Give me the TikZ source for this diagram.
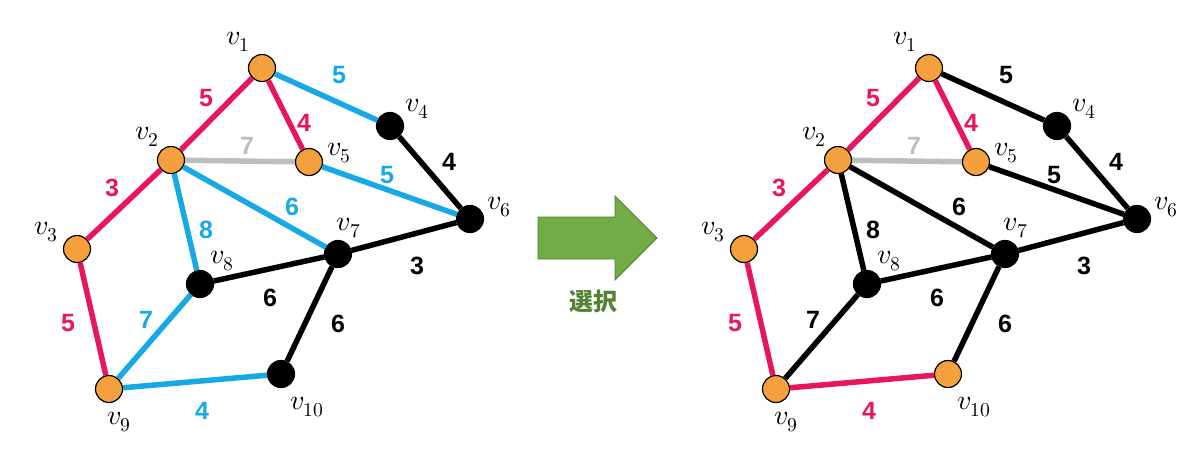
\documentclass[tikz,border=0pt]{standalone}
\usepackage{fontspec}
\usepackage{unicode-math}
\setmathfont{Latin Modern Math}
\newfontfamily\wtfont{Liberation Sans}
\newfontfamily\jpfont{Noto Sans CJK JP}
\usetikzlibrary{positioning}

\definecolor{vorange}{HTML}{F5A03E}
\definecolor{epink}{HTML}{E8155F}
\definecolor{eblue}{HTML}{17A9E6}
\definecolor{egray}{HTML}{BEBEBE}
\definecolor{agreen}{HTML}{70AD47}
\definecolor{agreendark}{HTML}{507E32}
\definecolor{tgreen}{HTML}{548235}

\tikzset{
  vtx/.style={draw=black, circle, line width=1.2pt, minimum size=27pt, inner sep=0pt},
  orangev/.style={vtx, fill=vorange},
  blackv/.style={vtx, fill=black},
  vname/.style={font=\fontsize{28}{32}\selectfont, inner sep=0pt},
  wt/.style={font=\wtfont\bfseries\fontsize{25}{28}\selectfont, inner sep=0pt},
  pinkE/.style={line width=5.5pt, draw=epink},
  blueE/.style={line width=5.5pt, draw=eblue},
  grayE/.style={line width=5.5pt, draw=egray},
  blackE/.style={line width=5.5pt, draw=black},
}

\begin{document}
\begin{tikzpicture}[x=1pt, y=-1pt]
    \useasboundingbox (0,0) rectangle (1200,467);

    % before
    \node[orangev] (a1) at (262,68) {};
    \node[orangev] (a2) at (171,160) {};
    \node[orangev] (a3) at (77,249) {};
    \node[blackv] (a4) at (390,126) {};
    \node[orangev] (a5) at (309,162) {};
    \node[blackv] (a6) at (470,219) {};
    \node[blackv] (a7) at (338,254) {};
    \node[blackv] (a8) at (200,284) {};
    \node[orangev] (a9) at (109,389) {};
    \node[blackv] (a10) at (281,374) {};

    \node[vname] (an1) at (238,42) {$v_1$};
    \node[vname] (an2) at (147,137) {$v_2$};
    \node[vname] (an3) at (46,232) {$v_3$};
    \node[vname] (an4) at (417,109) {$v_4$};
    \node[vname] (an5) at (339,153) {$v_5$};
    \node[vname] (an6) at (499,207) {$v_6$};
    \node[vname] (an7) at (349,228) {$v_7$};
    \node[vname] (an8) at (222,261) {$v_8$};
    \node[vname] (an9) at (119,422) {$v_9$};
    \node[vname] (an10) at (307,407) {$v_{10}$};

    \draw[grayE] (a2) -- (a5);
    \draw[pinkE] (a1) -- (a2);
    \draw[pinkE] (a1) -- (a5);
    \draw[blueE] (a1) -- (a4);
    \draw[pinkE] (a2) -- (a3);
    \draw[blueE] (a2) -- (a7);
    \draw[blueE] (a2) -- (a8);
    \draw[blueE] (a5) -- (a6);
    \draw[blackE] (a4) -- (a6);
    \draw[blackE] (a6) -- (a7);
    \draw[blackE] (a7) -- (a8);
    \draw[blackE] (a7) -- (a10);
    \draw[pinkE] (a3) -- (a9);
    \draw[blueE] (a8) -- (a9);
    \draw[blueE] (a9) -- (a10);

    \node[wt, text=epink] (aw12) at (206,98) {5};
    \node[wt, text=epink] (aw15) at (304,123) {4};
    \node[wt, text=eblue] (aw14) at (339,75) {5};
    \node[wt, text=egray] (aw25) at (247,146) {7};
    \node[wt] (aw46) at (449,162) {4};
    \node[wt, text=eblue] (aw56) at (387,175) {5};
    \node[wt, text=epink] (aw23) at (112,188) {3};
    \node[wt, text=eblue] (aw27) at (292,207) {6};
    \node[wt, text=eblue] (aw28) at (206,230) {8};
    \node[wt] (aw67) at (417,266) {3};
    \node[wt] (aw78) at (270,298) {6};
    \node[wt, text=epink] (aw39) at (68,323) {5};
    \node[wt, text=eblue] (aw89) at (146,320) {7};
    \node[wt] (aw710) at (338,324) {6};
    \node[wt, text=eblue] (aw910) at (202,411) {4};

    % arrow
    \filldraw[fill=agreen, draw=agreendark, line width=0.8pt]
        (538,217) -- (615,217) -- (615,196) -- (657,238) -- (615,280)
        -- (615,259) -- (538,259) -- cycle;
    \node[text=tgreen, font=\jpfont\bfseries\fontsize{24}{28}\selectfont, inner sep=0pt]
        (sel) at (593,301) {選択};

    % after
    \begin{scope}[xshift=667pt]
    \node[orangev] (b1) at (262,68) {};
    \node[orangev] (b2) at (171,160) {};
    \node[orangev] (b3) at (77,249) {};
    \node[blackv] (b4) at (390,126) {};
    \node[orangev] (b5) at (309,162) {};
    \node[blackv] (b6) at (470,219) {};
    \node[blackv] (b7) at (338,254) {};
    \node[blackv] (b8) at (200,284) {};
    \node[orangev] (b9) at (109,389) {};
    \node[orangev] (b10) at (281,374) {};

    \node[vname] (bn1) at (238,42) {$v_1$};
    \node[vname] (bn2) at (147,137) {$v_2$};
    \node[vname] (bn3) at (46,232) {$v_3$};
    \node[vname] (bn4) at (417,109) {$v_4$};
    \node[vname] (bn5) at (339,153) {$v_5$};
    \node[vname] (bn6) at (499,207) {$v_6$};
    \node[vname] (bn7) at (349,228) {$v_7$};
    \node[vname] (bn8) at (222,261) {$v_8$};
    \node[vname] (bn9) at (119,422) {$v_9$};
    \node[vname] (bn10) at (307,407) {$v_{10}$};

    \draw[grayE] (b2) -- (b5);
    \draw[pinkE] (b1) -- (b2);
    \draw[pinkE] (b1) -- (b5);
    \draw[blackE] (b1) -- (b4);
    \draw[pinkE] (b2) -- (b3);
    \draw[blackE] (b2) -- (b7);
    \draw[blackE] (b2) -- (b8);
    \draw[blackE] (b5) -- (b6);
    \draw[blackE] (b4) -- (b6);
    \draw[blackE] (b6) -- (b7);
    \draw[blackE] (b7) -- (b8);
    \draw[blackE] (b7) -- (b10);
    \draw[pinkE] (b3) -- (b9);
    \draw[blackE] (b8) -- (b9);
    \draw[pinkE] (b9) -- (b10);

    \node[wt, text=epink] (bw12) at (206,98) {5};
    \node[wt, text=epink] (bw15) at (304,123) {4};
    \node[wt] (bw14) at (339,75) {5};
    \node[wt, text=egray] (bw25) at (247,146) {7};
    \node[wt] (bw46) at (449,162) {4};
    \node[wt] (bw56) at (387,175) {5};
    \node[wt, text=epink] (bw23) at (112,188) {3};
    \node[wt] (bw27) at (292,207) {6};
    \node[wt] (bw28) at (206,230) {8};
    \node[wt] (bw67) at (417,266) {3};
    \node[wt] (bw78) at (270,298) {6};
    \node[wt, text=epink] (bw39) at (68,323) {5};
    \node[wt] (bw89) at (146,320) {7};
    \node[wt] (bw710) at (338,324) {6};
    \node[wt, text=epink] (bw910) at (202,411) {4};
    \end{scope}
\end{tikzpicture}
\end{document}
